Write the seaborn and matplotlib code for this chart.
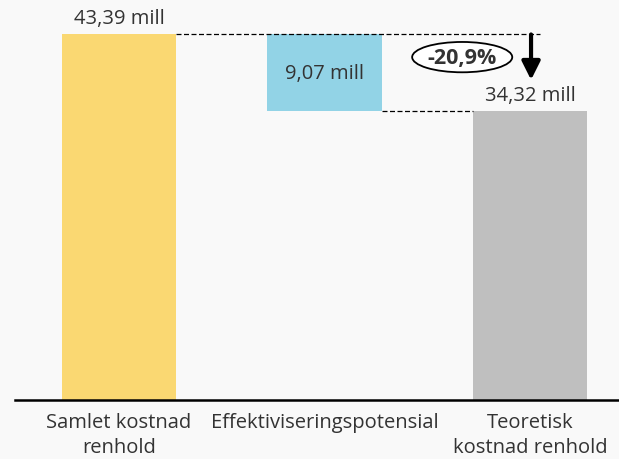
import pandas as pd
import matplotlib.pyplot as plt
import seaborn as sns
from matplotlib.patches import Ellipse

# Data
categories = ['Samlet kostnad\nrenhold', 'Effektiviseringspotensial', 'Teoretisk\nkostnad renhold']
values = [43.39, 9.07, 34.32]
labels = ['43,39 mill', '9,07 mill', '34,32 mill']
colors = ['#fad872', '#92d3e6', '#bfbfbf']
change_label = '-20,9%'

bg = '#f9f9f9'
txt = '#333333'
fs = 14.5

sns.set_style('white')
plt.rcParams['font.family'] = ['Open Sans', 'DejaVu Sans']

df = pd.DataFrame({'cat': categories, 'val': values})

fig = plt.figure(figsize=(6.19, 4.6), dpi=100, facecolor=bg)
ax = fig.add_axes([15 / 619, 59 / 460, 604 / 619, 401 / 460])
ax.set_facecolor(bg)

sns.barplot(data=df, x='cat', y='val', hue='cat', palette=colors, width=0.555,
            legend=False, ax=ax, saturation=1, linewidth=0)

# waterfall: float the middle bar
ax.patches[1].set_y(values[2])

ax.set_xlim(-0.506, 2.433)
ax.set_ylim(0, 47.6)
ax.set_xlabel('')
ax.set_ylabel('')
ax.set_yticks([])
ax.tick_params(axis='x', length=0, labelsize=fs, colors=txt, pad=9)
for t in ax.get_xticklabels():
    t.set_linespacing(1.33)
for s in ['top', 'right', 'left']:
    ax.spines[s].set_visible(False)
ax.spines['bottom'].set_color('black')
ax.spines['bottom'].set_linewidth(1.8)

hw = 0.555 / 2
# connector lines
ax.plot([0 + hw, 2.05], [values[0], values[0]], ls=(0, (4, 2)), color='black', lw=0.9, zorder=1)
ax.plot([1 + hw, 2 - hw], [values[2], values[2]], ls=(0, (4, 2)), color='black', lw=0.9, zorder=1)

# value labels
ax.text(0, values[0] + 0.8, labels[0], ha='center', va='bottom', fontsize=fs, color=txt)
ax.text(1, values[2] + values[1] / 2, labels[1], ha='center', va='center', fontsize=fs, color=txt)
ax.text(2, values[2] + 0.7, labels[2], ha='center', va='bottom', fontsize=fs, color=txt)

# arrow and percentage
ax.annotate('', xy=(2.005, 38.0), xytext=(2.005, values[0]),
            arrowprops=dict(arrowstyle='-|>,head_width=0.55,head_length=1.1',
                            color='black', lw=3, shrinkA=0, shrinkB=0))
ax.add_patch(Ellipse((1.67, 40.7), 0.487, 3.6, facecolor='white', edgecolor='black', lw=1.3, zorder=3))
ax.text(1.67, 40.65, change_label, ha='center', va='center', fontsize=15.5,
        fontweight='bold', color=txt, zorder=4)

fig.savefig('out.png', dpi=100, facecolor=bg)
